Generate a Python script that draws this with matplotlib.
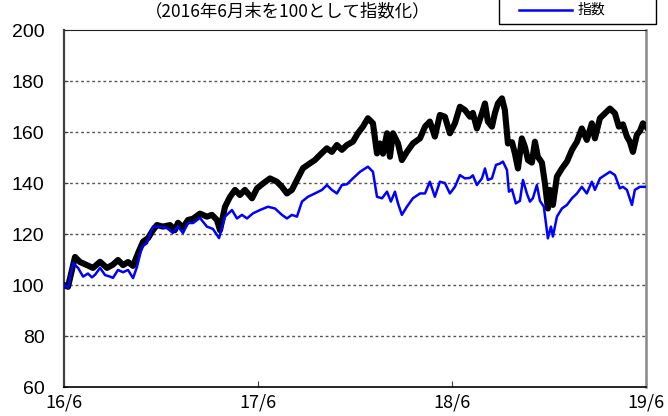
import matplotlib
matplotlib.use("Agg")
import matplotlib.pyplot as plt
from matplotlib.lines import Line2D
from matplotlib.patches import Rectangle

# months elapsed since 2016/6 and index values (start = 100)
fund_months = [0.0, 0.25, 0.68, 0.99, 1.42, 1.79, 2.23, 2.66, 3.03, 3.34,
               3.65, 3.96, 4.27, 4.58, 4.89, 5.2, 5.5, 5.75, 6.12, 6.56,
               6.86, 7.05, 7.36, 7.67, 7.98, 8.41, 8.84, 9.15, 9.46, 9.65,
               9.96, 10.27, 10.58, 10.88, 11.19, 11.63, 11.94, 12.31, 12.74, 13.17,
               13.48, 13.79, 14.1, 14.41, 14.78, 15.21, 15.52, 15.83, 16.26, 16.57,
               16.88, 17.19, 17.5, 17.87, 18.18, 18.49, 18.8, 19.11, 19.36, 19.54,
               19.73, 19.98, 20.16, 20.35, 20.66, 20.9, 21.21, 21.58, 22.02, 22.33,
               22.63, 22.94, 23.25, 23.56, 23.87, 24.18, 24.49, 24.8, 25.11, 25.29,
               25.54, 25.85, 26.04, 26.22, 26.47, 26.65, 26.84, 27.09, 27.27, 27.46,
               27.71, 27.89, 28.08, 28.32, 28.51, 28.7, 28.94, 29.13, 29.31, 29.56,
               29.75, 29.93, 30.06, 30.24, 30.49, 30.8, 31.11, 31.42, 31.73, 32.03,
               32.34, 32.65, 32.84, 33.15, 33.46, 33.77, 34.08, 34.32, 34.57, 34.82,
               35.0, 35.19, 35.44, 35.62, 35.81, 36.0]
fund = [100.0, 99.3, 111.0, 109.0, 107.8, 106.7, 109.1, 106.7, 108.0, 109.8,
        107.8, 109.0, 107.5, 112.5, 117.0, 118.4, 121.5, 123.5, 122.9, 123.5,
        121.5, 124.4, 122.5, 125.5, 126.0, 128.0, 126.8, 127.5, 125.5, 121.5,
        130.7, 134.6, 137.3, 135.3, 137.3, 134.0, 137.9, 139.8, 141.8, 140.5,
        138.5, 135.9, 137.3, 141.2, 145.8, 147.7, 149.0, 151.0, 153.6, 152.2,
        154.9, 153.0, 154.9, 156.2, 159.5, 162.1, 165.4, 163.4, 151.6, 155.5,
        151.5, 159.5, 150.3, 159.5, 155.5, 149.0, 152.2, 155.5, 157.5, 162.1,
        164.1, 158.2, 166.7, 166.0, 159.5, 163.4, 169.9, 168.6, 166.0, 167.5,
        161.4, 167.3, 171.2, 164.1, 162.1, 167.3, 171.2, 173.2, 168.6, 155.5,
        156.0, 151.6, 145.7, 157.5, 154.2, 149.0, 148.0, 156.2, 150.3, 148.0,
        139.8, 130.0, 137.3, 131.4, 142.5, 145.7, 148.4, 153.0, 156.2, 161.4,
        156.9, 163.4, 157.5, 165.4, 167.3, 169.2, 167.3, 162.1, 163.0, 158.2,
        156.2, 152.2, 159.0, 160.3, 163.4, 162.1]

index_months = [0.0, 0.25, 0.56, 0.87, 1.18, 1.48, 1.73, 1.92, 2.23, 2.54,
                2.84, 3.03, 3.34, 3.65, 3.96, 4.27, 4.51, 4.82, 5.13, 5.5,
                5.94, 6.37, 6.74, 7.05, 7.36, 7.67, 7.98, 8.41, 8.84, 9.21,
                9.59, 9.96, 10.39, 10.7, 11.01, 11.32, 11.69, 12.12, 12.62, 13.05,
                13.48, 13.79, 14.1, 14.41, 14.72, 15.09, 15.52, 15.96, 16.26, 16.57,
                16.88, 17.19, 17.5, 17.87, 18.31, 18.8, 19.11, 19.36, 19.67, 19.98,
                20.22, 20.47, 20.66, 20.9, 21.21, 21.58, 22.02, 22.33, 22.63, 22.94,
                23.25, 23.56, 23.87, 24.18, 24.49, 24.8, 25.11, 25.29, 25.54, 25.85,
                26.04, 26.22, 26.47, 26.72, 26.96, 27.15, 27.4, 27.52, 27.71, 27.95,
                28.2, 28.39, 28.63, 28.82, 29.0, 29.25, 29.44, 29.68, 29.93, 30.12,
                30.24, 30.49, 30.8, 31.11, 31.42, 31.73, 32.03, 32.34, 32.65, 32.84,
                33.15, 33.46, 33.77, 34.08, 34.38, 34.57, 34.82, 35.13, 35.31, 35.62,
                36.0]
index = [100.0, 98.8, 108.6, 106.7, 103.3, 104.5, 103.0, 104.0, 106.7, 103.9,
         103.3, 102.8, 105.9, 105.0, 105.9, 102.7, 107.0, 115.0, 116.4, 122.9,
         122.9, 122.3, 120.4, 122.9, 120.4, 124.3, 124.3, 126.3, 122.9, 122.0,
         118.4, 126.8, 129.4, 126.1, 127.5, 126.1, 128.1, 129.4, 130.7, 130.0,
         127.5, 126.1, 127.5, 126.8, 132.7, 134.6, 135.9, 137.3, 139.2, 137.3,
         135.9, 139.2, 139.5, 141.8, 144.4, 146.4, 144.4, 134.6, 134.0, 136.6,
         132.7, 136.6, 132.0, 127.5, 130.7, 134.0, 135.9, 135.9, 140.5, 134.6,
         140.5, 140.0, 135.9, 138.5, 143.1, 141.8, 142.0, 143.0, 139.2, 141.8,
         145.7, 141.2, 141.8, 147.1, 147.6, 148.4, 145.1, 136.6, 137.5, 132.0,
         133.0, 141.2, 135.9, 132.7, 134.0, 139.2, 133.0, 130.7, 118.3, 122.9,
         119.0, 126.8, 130.0, 131.4, 134.0, 135.9, 138.5, 135.9, 140.5, 137.3,
         141.8, 143.1, 144.4, 143.1, 137.9, 138.5, 137.3, 131.4, 137.3, 138.5,
         138.5]

x_ticks = [0, 12, 24, 36]
x_labels = ["16/6", "17/6", "18/6", "19/6"]
y_ticks = [60, 80, 100, 120, 140, 160, 180, 200]

fig = plt.figure(figsize=(6.68, 4.16), dpi=100)
ax = fig.add_axes([64 / 668, 1 - 387 / 416, 582 / 668, 357 / 416])

ax.plot(fund_months, fund, color="black", lw=4.4, solid_joinstyle="round", zorder=3)
ax.plot(index_months, index, color="#0000ff", lw=1.8, zorder=4)

ax.set_xlim(0, 36)
ax.set_ylim(60, 200)
ax.set_xticks(x_ticks)
ax.set_xticklabels(x_labels, fontfamily="Noto Sans CJK JP", fontsize=13)
ax.set_yticks(y_ticks)
ax.set_yticklabels([str(v) for v in y_ticks], fontfamily="Liberation Sans", fontsize=14)
ax.tick_params(axis="y", direction="in", length=3, pad=14, color="#404040")
ax.tick_params(axis="x", direction="in", length=4, pad=5, color="#404040")

for v in y_ticks[1:-1]:
    ax.axhline(v, color="#555555", lw=1.0, ls=(0, (2, 2)), zorder=1)

ax.spines["left"].set_color("#404040")
ax.spines["left"].set_linewidth(1.6)
ax.spines["right"].set_color("#888888")
ax.spines["right"].set_linewidth(1.8)
ax.spines["top"].set_color("#222222")
ax.spines["top"].set_linewidth(0.8)
ax.spines["bottom"].set_color("black")
ax.spines["bottom"].set_linewidth(1.2)

# title in the strip above the plot
fig.text(288 / 668, 1 - 2 / 416, "（2016年6月末を100として指数化）",
         ha="center", va="top", fontsize=12.5, fontfamily="Noto Sans CJK JP")

# legend box, upper part outside the canvas
fig.patches.append(Rectangle((499 / 668, 1 - 24 / 416), 157 / 668, 60 / 416,
                             transform=fig.transFigure, fill=False,
                             edgecolor="black", lw=1.0))
fig.lines.append(Line2D([519 / 668, 572 / 668], [1 - 10 / 416, 1 - 10 / 416],
                        transform=fig.transFigure, color="#0000ff", lw=1.8))
fig.text(578 / 668, 1 - 10 / 416, "指数", ha="left", va="center",
         fontsize=10, fontfamily="Noto Sans CJK JP")

fig.savefig("out.png", dpi=100)
